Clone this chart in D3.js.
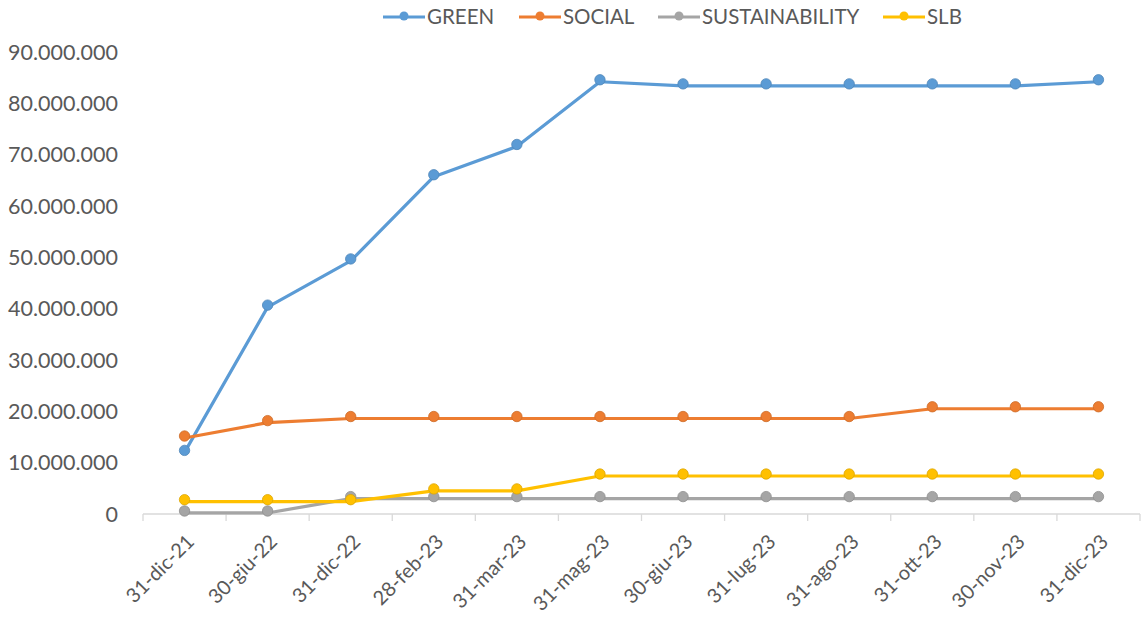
<!DOCTYPE html>
<html>
<head>
<meta charset="utf-8">
<style>
  body { margin: 0; background: #fff; }
  text { font-family: Lato, "Open Sans", sans-serif; fill: #595959; }
</style>
</head>
<body>
<svg width="1142" height="618"></svg>
<script src="https://d3js.org/d3.v7.min.js"></script>
<script>
// categorie (date)
var dates = ["31-dic-21", "30-giu-22", "31-dic-22", "28-feb-23", "31-mar-23", "31-mag-23",
             "30-giu-23", "31-lug-23", "31-ago-23", "31-ott-23", "30-nov-23", "31-dic-23"];

// serie
var green = [12000000, 40300000, 49300000, 65700000, 71600000, 84200000,
             83400000, 83400000, 83400000, 83400000, 83400000, 84200000];
var social = [14800000, 17800000, 18600000, 18600000, 18600000, 18600000,
              18600000, 18600000, 18600000, 20500000, 20500000, 20500000];
var sustainability = [200000, 200000, 3000000, 3000000, 3000000, 3000000,
                      3000000, 3000000, 3000000, 3000000, 3000000, 3000000];
var slb = [2400000, 2400000, 2400000, 4500000, 4500000, 7400000,
           7400000, 7400000, 7400000, 7400000, 7400000, 7400000];

var yTicks = [0, 10000000, 20000000, 30000000, 40000000, 50000000, 60000000, 70000000, 80000000, 90000000];

var series = [
  { name: "GREEN", values: green, color: "#5B9BD5" },
  { name: "SOCIAL", values: social, color: "#ED7D31" },
  { name: "SUSTAINABILITY", values: sustainability, color: "#A5A5A5" },
  { name: "SLB", values: slb, color: "#FFC000" }
];

var svg = d3.select("svg");

var x = d3.scaleBand().domain(dates).range([143, 1140]);
var y = d3.scaleLinear().domain([0, 90000000]).range([514, 52]);

// formato italiano: 90.000.000
var fmt = function(v) { return v === 0 ? "0" : d3.format(",")(v).replace(/,/g, "."); };

// asse y (solo etichette)
svg.append("g")
  .selectAll("text")
  .data(yTicks)
  .enter().append("text")
  .attr("x", 118)
  .attr("y", function(d) { return y(d); })
  .attr("dy", "0.36em")
  .attr("text-anchor", "end")
  .style("font-size", "21.5px")
  .text(fmt);

// asse x
var xAxis = svg.append("g").attr("transform", "translate(0," + y(0) + ")");
xAxis.append("line")
  .attr("x1", x.range()[0]).attr("x2", x.range()[1])
  .attr("stroke", "#d9d9d9").attr("stroke-width", 1.3);
var edges = dates.map(function(d) { return x(d); }).concat([x.range()[1]]);
xAxis.selectAll(".tk")
  .data(edges)
  .enter().append("line")
  .attr("class", "tk")
  .attr("x1", function(d) { return d; }).attr("x2", function(d) { return d; })
  .attr("y1", 0).attr("y2", 7)
  .attr("stroke", "#d9d9d9").attr("stroke-width", 1.3);

svg.append("g")
  .selectAll("text")
  .data(dates)
  .enter().append("text")
  .attr("transform", function(d) {
    return "translate(" + (x(d) + x.bandwidth() / 2 + 6) + ",538) rotate(-45)";
  })
  .attr("text-anchor", "end")
  .attr("dy", "0.35em")
  .style("font-size", "20px")
  .text(function(d) { return d; });

// linee
var line = d3.line()
  .x(function(d, i) { return x(dates[i]) + x.bandwidth() / 2; })
  .y(function(d) { return y(d); });

series.forEach(function(s) {
  var g = svg.append("g");
  g.append("path")
    .datum(s.values)
    .attr("fill", "none")
    .attr("stroke", s.color)
    .attr("stroke-width", 3.2)
    .attr("stroke-linejoin", "round")
    .attr("d", line);
  g.selectAll("circle")
    .data(s.values)
    .enter().append("circle")
    .attr("cx", function(d, i) { return x(dates[i]) + x.bandwidth() / 2; })
    .attr("cy", function(d) { return y(d) - 2; })
    .attr("r", 5.2)
    .attr("fill", s.color)
    .attr("stroke", d3.color(s.color).darker(0.4))
    .attr("stroke-width", 0.8);
});

// legenda
var legendX = [383, 519, 658, 883];
var legend = svg.append("g");
series.forEach(function(s, i) {
  var lg = legend.append("g").attr("transform", "translate(" + legendX[i] + ",17)");
  lg.append("line").attr("x1", 0).attr("x2", 42)
    .attr("stroke", s.color).attr("stroke-width", 3.2);
  lg.append("circle").attr("cx", 21).attr("cy", -1).attr("r", 4.5).attr("fill", s.color);
  lg.append("text").attr("x", 44).attr("dy", "0.36em")
    .style("font-size", "20.5px").text(s.name);
});
</script>
</body>
</html>
